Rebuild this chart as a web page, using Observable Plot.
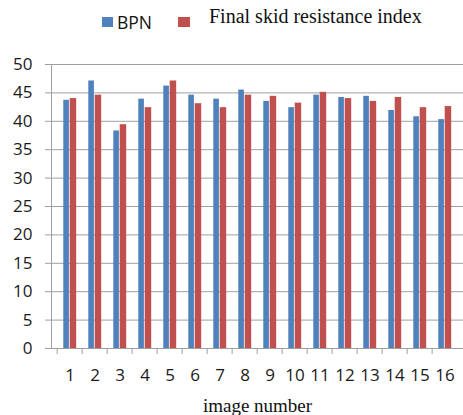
<!DOCTYPE html>
<html>
<head>
<meta charset="utf-8">
<script src="https://cdn.jsdelivr.net/npm/d3@7"></script>
<script src="https://cdn.jsdelivr.net/npm/@observablehq/plot@0.6"></script>
<style>
  html, body { margin: 0; padding: 0; background: #fff; }
  #wrap { position: relative; width: 463px; height: 415px; overflow: hidden; }
  #legend { position: relative; width: 463px; height: 40px; }
  .sw { position: absolute; width: 11px; height: 10px; top: 17px; }
  .lt { position: absolute; white-space: nowrap; color: #111; }
  svg { display: block; }
</style>
</head>
<body>
<div id="wrap">
  <div id="legend">
    <div class="sw" style="left:102px;background:#4F81BD"></div>
    <div class="lt" style="left:117px;top:10px;font:17.5px 'Open Sans',sans-serif;">BPN</div>
    <div class="sw" style="left:178px;width:12px;background:#C0504D"></div>
    <div class="lt" style="left:209px;top:5px;font:20px 'Liberation Serif',serif;">Final skid resistance index</div>
  </div>
  <div id="chart"></div>
</div>
<script>
const images = [1, 2, 3, 4, 5, 6, 7, 8, 9, 10, 11, 12, 13, 14, 15, 16];
const bpn  = [43.7, 47.1, 38.3, 43.9, 46.2, 44.6, 43.9, 45.5, 43.5, 42.4, 44.6, 44.2, 44.4, 41.9, 40.8, 40.3];
const fsri = [44.0, 44.6, 39.4, 42.4, 47.1, 43.1, 42.4, 44.6, 44.4, 43.2, 45.1, 44.0, 43.5, 44.2, 42.4, 42.6];
const yTicks = [0, 5, 10, 15, 20, 25, 30, 35, 40, 45, 50];
const seriesNames = ["BPN", "Final skid resistance index"];
const xTitle = "image number";

const data = images.flatMap((im, i) => [
  {image: im, series: seriesNames[0], value: bpn[i]},
  {image: im, series: seriesNames[1], value: fsri[i]}
]);

const W = 463, H = 375, mL = 51, mR = 0;
const half = (W - mL - mR) / images.length / 2;

const chart = Plot.plot({
  width: W,
  height: H,
  marginTop: 24,
  marginBottom: 67,
  marginLeft: mL,
  marginRight: mR,
  style: {fontFamily: "'Open Sans', sans-serif", fontSize: "17px", color: "#1a1a1a", background: "#fff"},
  x: {domain: images, padding: 0, label: null},
  y: {domain: [0, 50], label: null},
  marks: [
    Plot.gridY(yTicks, {stroke: "#a0a0a0", strokeOpacity: 1}),
    Plot.barY(data.filter(d => d.series === seriesNames[0]), {x: "image", y: "value", fill: "#4F81BD", insetLeft: 6.3, insetRight: 13.1}),
    Plot.barY(data.filter(d => d.series === seriesNames[1]), {x: "image", y: "value", fill: "#C0504D", insetLeft: 12.7, insetRight: 5.8}),
    Plot.ruleY([0], {stroke: "#a0a0a0"}),
    Plot.frame({anchor: "left", stroke: "#a0a0a0"}),
    Plot.axisY({ticks: yTicks, tickSize: 6, tickPadding: 13, stroke: "#a0a0a0", strokeOpacity: 1, label: null}),
    Plot.axisX({tickSize: 6, dx: -half, tickFormat: () => "", stroke: "#a0a0a0", strokeOpacity: 1, label: null}),
    Plot.axisX({tickSize: 0, tickPadding: 20, label: null}),
    Plot.text([xTitle], {text: d => d, frameAnchor: "bottom", lineAnchor: "middle", dy: 57, fontFamily: "'Liberation Serif', serif", fontSize: 19, fill: "#111"})
  ]
});
document.getElementById("chart").appendChild(chart);
</script>
</body>
</html>
